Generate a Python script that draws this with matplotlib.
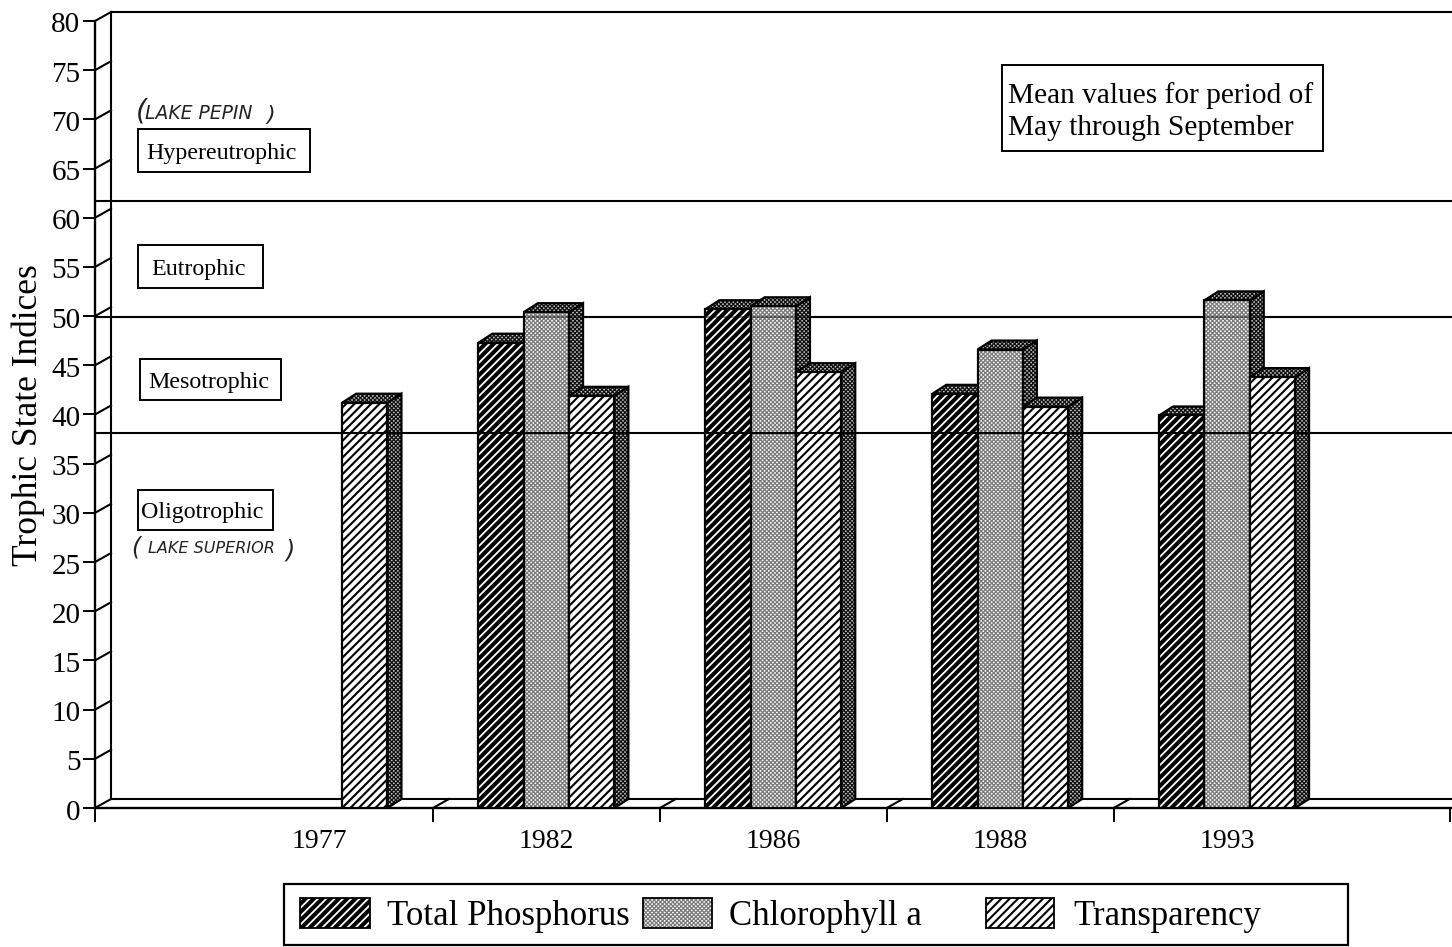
"""Trophic state indices: pseudo-3D hatched bar chart."""

import matplotlib

matplotlib.use("Agg")
import matplotlib.pyplot as plt
from matplotlib.patches import Polygon, Rectangle
from matplotlib.transforms import ScaledTranslation

W, H = 1452, 947

years = ["1977", "1982", "1986", "1988", "1993"]
total_phosphorus = [None, 47.3, 50.7, 42.1, 39.9]
chlorophyll_a = [None, 50.4, 51.0, 46.6, 51.6]
transparency = [41.2, 41.9, 44.3, 40.8, 43.8]
series_names = ["Total Phosphorus", "Chlorophyll a", "Transparency"]

y_ticks = list(range(0, 85, 5))
class_limits = [38.1, 49.9, 61.7]
class_names = ["Oligotrophic", "Mesotrophic", "Eutrophic", "Hypereutrophic"]

plt.rcParams["font.family"] = ["Liberation Serif", "DejaVu Serif"]

# hatch line widths, stripes and stipple need different ones
STRIPE_LW = 1.5
STIPPLE_LW = 0.9

# pixel layout of the plot
LEFT, RIGHT, BOTTOM, TOP = 95, 1452, 808, 21
CAT_PX = 226.9
FIRST_CENTER = 319.5
BAR_PX = 45.3
DEPTH_X, DEPTH_Y = 16, 9
BAR_DX, BAR_DY = 14, 9

fig = plt.figure(figsize=(W / 100, H / 100), dpi=100, facecolor="white")
ax = fig.add_axes(
    [LEFT / W, 1 - BOTTOM / H, (RIGHT - LEFT) / W, (BOTTOM - TOP) / H], facecolor="none"
)
ax.set_xlim((LEFT - FIRST_CENTER) / CAT_PX, (RIGHT - FIRST_CENTER) / CAT_PX)
ax.set_ylim(0, 80)

unit_x = 1 / CAT_PX
unit_y = 80 / (BOTTOM - TOP)
bar_w = BAR_PX * unit_x
ddx, ddy = BAR_DX * unit_x, BAR_DY * unit_y
wall_x, wall_y = DEPTH_X * unit_x, DEPTH_Y * unit_y
x0, x1 = ax.get_xlim()

for s in ["top", "right"]:
    ax.spines[s].set_visible(False)
for s in ["left", "bottom"]:
    ax.spines[s].set_linewidth(1.7)

# ticks
edges = [i + 0.5 for i in range(len(years) - 1)]
ax.set_xticks([x0] + edges + [x1 - 2 * unit_x])
ax.set_xticklabels([])
ax.set_xticks(list(range(len(years))), minor=True)
ax.set_xticklabels(years, minor=True, fontsize=20)
ax.tick_params(axis="x", which="major", length=10, width=1.4)
ax.tick_params(axis="x", which="minor", length=0, pad=15)
ax.set_yticks(y_ticks)
ax.set_yticklabels([str(v) for v in y_ticks], fontsize=21)
ax.tick_params(axis="y", length=8.5, width=1.4, pad=2)
nudge = ScaledTranslation(0, -1.5 / 100, fig.dpi_scale_trans)
for lab in ax.get_yticklabels():
    lab.set_transform(lab.get_transform() + nudge)
ax.set_ylabel("Trophic State Indices", fontsize=25.5)
ax.yaxis.set_label_coords((45 - LEFT) / (RIGHT - LEFT), (BOTTOM - 415) / (BOTTOM - TOP))

# back wall, floor and their joints
line_kw = dict(color="black", lw=1.5, clip_on=False, zorder=2)
ax.plot([x0 + wall_x, x0 + wall_x], [wall_y, 80 + wall_y], **line_kw)
ax.plot([x0 + wall_x, x1], [80 + wall_y, 80 + wall_y], **line_kw)
ax.plot([x0 + wall_x, x1], [wall_y, wall_y], **line_kw)
for v in y_ticks:
    ax.plot([x0, x0 + wall_x], [v, v + wall_y], **line_kw)
for e in edges:
    ax.plot([e, e + wall_x], [0, wall_y], **line_kw)

# class limits: all run across the bars, the 50 line only faintly
for v, z, a in zip(class_limits, [6, 6, 2], [1, 0.4, 1]):
    ax.plot([x0, x1], [v, v], color="black", lw=1.5, alpha=a, zorder=z)
ax.plot([x0, x1], [class_limits[1]] * 2, color="black", lw=1.5, zorder=2)


def hatched(cls, *args, hatch_lw, **kwargs):
    # the line width is picked up when the patch is made
    with plt.rc_context({"hatch.linewidth": hatch_lw}):
        return cls(*args, **kwargs)


def draw_bar(x, val, face, edge, hatch, hatch_lw, z):
    side = [(x + bar_w, 0), (x + bar_w + ddx, ddy), (x + bar_w + ddx, val + ddy), (x + bar_w, val)]
    top = [(x, val), (x + ddx, val + ddy), (x + bar_w + ddx, val + ddy), (x + bar_w, val)]
    for pts in (side, top):
        ax.add_patch(hatched(Polygon, pts, hatch_lw=STIPPLE_LW, facecolor="#c0c0c0",
                             edgecolor="#101010", hatch="xxxxxxxx", lw=0, zorder=z))
        ax.add_patch(Polygon(pts, fill=False, edgecolor="black", lw=1.6, zorder=z))
    ax.add_patch(hatched(Rectangle, (x, 0), bar_w, val, hatch_lw=hatch_lw, facecolor=face,
                         edgecolor=edge, hatch=hatch, lw=0, zorder=z))
    ax.add_patch(Rectangle((x, 0), bar_w, val, fill=False, edgecolor="black", lw=1.6, zorder=z))


styles = [
    ("black", "white", "////", 1.3),
    ("white", "#7a7a7a", "xxxxxxxx", STIPPLE_LW),
    ("white", "black", "////", STRIPE_LW),
]
all_series = [total_phosphorus, chlorophyll_a, transparency]
z = 3.0
for i in range(len(years)):
    for k, values in enumerate(all_series):
        if values[i] is None:
            continue
        z += 0.01
        draw_bar(i + (k - 1.5) * bar_w, values[i], *styles[k], z)

# overlay in pixels for boxes, notes and the legend
pix = fig.add_axes([0, 0, 1, 1], facecolor="none")
pix.set_xlim(0, W)
pix.set_ylim(H, 0)
pix.axis("off")


def box(x, y, w, h, lw=1.4):
    pix.add_patch(Rectangle((x, y), w, h, facecolor="white", edgecolor="black", lw=lw))


class_boxes = [(138, 490, 135, 40), (140, 359, 141, 41), (138, 245, 125, 43), (138, 129, 172, 43)]
class_text_x = [141, 148, 151, 146]
for name, (bx, by, bw, bh), tx in zip(class_names, class_boxes, class_text_x):
    box(bx, by, bw, bh)
    pix.text(tx, by + bh / 2, name, fontsize=17.3, va="center_baseline", ha="left")

box(1002, 65, 321, 86)
pix.text(1008, 93, "Mean values for period of", fontsize=21.2, va="center_baseline")
pix.text(1008, 125, "May through September", fontsize=21.2, va="center_baseline")

# handwritten notes
note_kw = dict(family=["DejaVu Sans"], style="oblique", color="#222222", va="center")
pix.text(136, 111, "(", fontsize=20, **note_kw)
pix.text(145, 113, "LAKE PEPIN", fontsize=13.5, **note_kw)
pix.text(266, 115, ")", fontsize=16, **note_kw)
pix.text(131, 547, "(", fontsize=17, **note_kw)
pix.text(148, 548, "LAKE SUPERIOR", fontsize=11.5, **note_kw)
pix.text(285, 550, ")", fontsize=17, **note_kw)

# legend
box(284, 884, 1064, 61, lw=1.6)
swatch_x = [300, 643, 986]
swatch_w = [70, 69, 68]
label_x = [387, 729, 1073]
for name, sx, sw, lx, (face, edge, hatch, hatch_lw) in zip(
    series_names, swatch_x, swatch_w, label_x, styles
):
    pix.add_patch(hatched(Rectangle, (sx, 898), sw, 30, hatch_lw=hatch_lw, facecolor=face,
                          edgecolor=edge, hatch=hatch, lw=0))
    pix.add_patch(Rectangle((sx, 898), sw, 30, fill=False, edgecolor="black", lw=1.3))
    pix.text(lx, 912, name, fontsize=25, va="center_baseline")

fig.savefig("out.png", dpi=100)
